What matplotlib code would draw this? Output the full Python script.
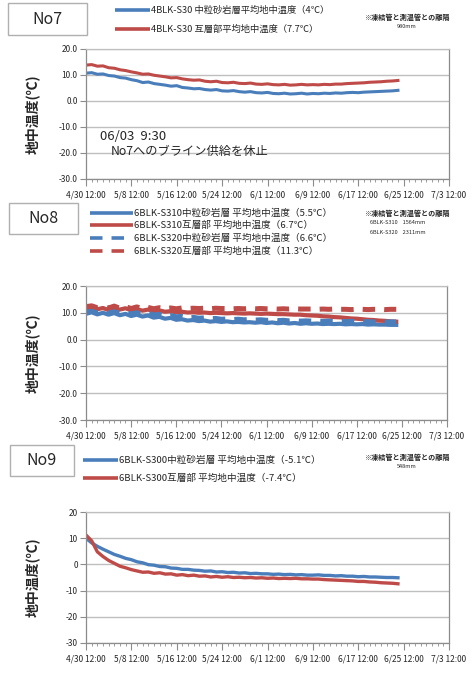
import matplotlib
matplotlib.use("Agg")
import matplotlib.pyplot as plt
import matplotlib.dates as mdates
from matplotlib.lines import Line2D
from matplotlib.patches import Rectangle
from matplotlib.ticker import FuncFormatter, FixedLocator
import pandas as pd
import datetime as dt

plt.rcParams['font.family'] = ['Noto Sans CJK JP', 'DejaVu Sans']
plt.rcParams['lines.scale_dashes'] = False

# ---- data (daily readings from 4/30 12:00) ----
start = dt.datetime(2000, 4, 30, 12)
x_start = dt.datetime(2000, 4, 30, 12)
x_end = dt.datetime(2000, 7, 3, 12)

no7_s30_sand = [10.7, 10.9, 10.3, 10.4, 9.8, 9.6, 9.0, 8.8, 8.2, 7.8,
                7.1, 7.3, 6.7, 6.4, 6.1, 5.7, 5.9, 5.2, 5.0, 4.7,
                4.8, 4.4, 4.2, 4.4, 3.9, 3.8, 4.0, 3.6, 3.4, 3.6,
                3.2, 3.1, 3.3, 2.9, 2.8, 3.0, 2.7, 2.8, 3.0, 2.7,
                2.9, 2.8, 3.0, 2.9, 3.1, 3.0, 3.2, 3.3, 3.2, 3.4,
                3.5, 3.6, 3.7, 3.8, 3.9, 4.1]
no7_s30_inter = [13.8, 14.0, 13.4, 13.5, 12.8, 12.6, 12.0, 11.7, 11.2, 10.8,
                 10.3, 10.4, 9.9, 9.6, 9.3, 8.9, 9.0, 8.5, 8.2, 8.0,
                 8.1, 7.6, 7.4, 7.6, 7.1, 7.0, 7.2, 6.8, 6.7, 6.9,
                 6.5, 6.4, 6.6, 6.3, 6.2, 6.4, 6.1, 6.2, 6.4, 6.2,
                 6.3, 6.2, 6.4, 6.3, 6.5, 6.5, 6.7, 6.8, 6.9, 7.0,
                 7.2, 7.3, 7.4, 7.6, 7.7, 7.9]

no8_s310_sand = [9.6, 10.2, 9.4, 10.0, 9.3, 9.9, 9.1, 9.6, 8.8, 9.3,
                 8.6, 9.0, 8.2, 8.5, 7.8, 8.1, 7.4, 7.6, 7.1, 7.3,
                 6.9, 7.1, 6.7, 6.9, 6.6, 6.8, 6.5, 6.6, 6.4, 6.5,
                 6.3, 6.5, 6.2, 6.4, 6.1, 6.3, 6.0, 6.2, 5.9, 6.1,
                 5.9, 6.0, 5.8, 5.9, 5.8, 5.9, 5.7, 5.8, 5.7, 5.8,
                 5.6, 5.7, 5.6, 5.6, 5.5, 5.5]
no8_s310_inter = [11.5, 12.0, 11.3, 11.8, 11.0, 11.6, 11.2, 11.7, 10.9, 11.4,
                  10.8, 11.2, 10.6, 10.9, 10.4, 10.6, 10.2, 10.4, 10.1, 10.2,
                  10.0, 10.1, 9.9, 10.0, 9.9, 9.8, 9.9, 9.8, 9.7, 9.8,
                  9.7, 9.6, 9.7, 9.6, 9.5, 9.5, 9.4, 9.3, 9.3, 9.1,
                  9.0, 8.9, 8.7, 8.6, 8.4, 8.3, 8.1, 7.9, 7.8, 7.6,
                  7.4, 7.3, 7.1, 7.0, 6.8, 6.7]
no8_s320_sand = [10.3, 10.6, 10.1, 10.5, 10.0, 10.4, 9.9, 10.2, 9.6, 10.0,
                 9.5, 9.8, 9.2, 9.4, 8.8, 9.0, 8.5, 8.7, 8.2, 8.3,
                 8.0, 8.1, 7.8, 7.9, 7.6, 7.7, 7.5, 7.6, 7.4, 7.5,
                 7.3, 7.4, 7.2, 7.3, 7.1, 7.2, 7.0, 7.1, 6.9, 7.0,
                 6.9, 6.9, 6.8, 6.9, 6.8, 6.8, 6.7, 6.8, 6.7, 6.7,
                 6.7, 6.6, 6.7, 6.6, 6.6, 6.6]
no8_s320_inter = [12.3, 12.6, 11.9, 12.4, 11.8, 12.5, 11.7, 12.3, 11.6, 12.2,
                  11.6, 12.0, 11.5, 11.9, 11.6, 11.8, 11.5, 11.8, 11.6, 11.7,
                  11.6, 11.7, 11.5, 11.7, 11.6, 11.6, 11.5, 11.6, 11.5, 11.6,
                  11.5, 11.6, 11.5, 11.5, 11.4, 11.5, 11.4, 11.5, 11.4, 11.4,
                  11.4, 11.3, 11.4, 11.3, 11.4, 11.3, 11.3, 11.2, 11.3, 11.3,
                  11.2, 11.3, 11.3, 11.2, 11.3, 11.3]

no9_s300_sand = [10.0, 8.2, 6.9, 5.8, 4.8, 3.8, 3.1, 2.3, 1.8, 1.0,
                 0.6, -0.1, -0.3, -0.8, -0.9, -1.4, -1.5, -1.9, -1.9, -2.2,
                 -2.3, -2.6, -2.5, -2.9, -2.8, -3.1, -3.0, -3.3, -3.2, -3.5,
                 -3.4, -3.6, -3.6, -3.8, -3.7, -3.9, -3.8, -4.0, -3.9, -4.1,
                 -4.1, -4.0, -4.2, -4.2, -4.4, -4.3, -4.5, -4.5, -4.7, -4.6,
                 -4.8, -4.8, -4.9, -5.0, -5.0, -5.1]
no9_s300_inter = [11.2, 9.0, 4.8, 3.0, 1.5, 0.4, -0.7, -1.3, -2.0, -2.5,
                  -3.0, -2.9, -3.4, -3.2, -3.7, -3.6, -4.1, -3.9, -4.3, -4.1,
                  -4.5, -4.4, -4.8, -4.6, -4.9, -4.7, -5.0, -4.9, -5.1, -5.0,
                  -5.2, -5.1, -5.3, -5.2, -5.4, -5.3, -5.4, -5.3, -5.5, -5.5,
                  -5.6, -5.6, -5.8, -5.9, -6.0, -6.1, -6.2, -6.3, -6.5, -6.5,
                  -6.7, -6.8, -7.0, -7.1, -7.2, -7.4]

dates = pd.date_range(start, periods=len(no7_s30_sand), freq='D')

legend_no7 = ['4BLK-S30 中粒砂岩層平均地中温度（4℃）',
              '4BLK-S30 互層部平均地中温度（7.7℃）']
legend_no8 = ['6BLK-S310中粒砂岩層 平均地中温度（5.5℃）',
              '6BLK-S310互層部 平均地中温度（6.7℃）',
              '6BLK-S320中粒砂岩層 平均地中温度（6.6℃）',
              '6BLK-S320互層部 平均地中温度（11.3℃）']
legend_no9 = ['6BLK-S300中粒砂岩層 平均地中温度（-5.1℃）',
              '6BLK-S300互層部 平均地中温度（-7.4℃）']

BLUE = '#4a7ebb'
RED = '#be4b48'
GRID = '#bfbfbf'
TXT = '#262626'

W, H = 472, 686
fig = plt.figure(figsize=(W / 100, H / 100), dpi=100)


def fx(x):
    return x / W


def fy(y):
    return 1 - y / H


def make_axes(top, bottom, right, yfmt):
    ax = fig.add_axes([fx(86), fy(bottom), fx(right) - fx(86), fy(top) - fy(bottom)])
    ax.set_xlim(x_start, x_end)
    ax.set_ylim(-30, 20)
    ax.set_yticks([-30, -20, -10, 0, 10, 20])
    ax.yaxis.set_major_formatter(FuncFormatter(yfmt))
    ax.grid(axis='y', color=GRID, lw=1.0)
    ax.set_axisbelow(True)
    major = [mdates.date2num(x_start + dt.timedelta(days=8 * i)) for i in range(9)]
    minor = [mdates.date2num(x_start + dt.timedelta(days=i)) for i in range(65)]
    ax.xaxis.set_major_locator(FixedLocator(major))
    ax.xaxis.set_minor_locator(FixedLocator(minor))
    ax.xaxis.set_major_formatter(FuncFormatter(
        lambda v, p: f"{mdates.num2date(v).month}/{mdates.num2date(v).day} 12:00"))
    ax.tick_params(axis='x', which='major', length=5, width=0.8, color='#8c8c8c',
                   labelsize=6, labelcolor=TXT, pad=3)
    ax.tick_params(axis='x', which='minor', length=2.5, width=0.6, color='#8c8c8c')
    ax.tick_params(axis='y', length=4, width=0.8, color='#8c8c8c',
                   labelsize=6, labelcolor=TXT, pad=2)
    for s in ax.spines.values():
        s.set_color('#8c8c8c')
        s.set_linewidth(0.9)
    ax.spines['top'].set_color(GRID)
    ax.set_ylabel('地中温度(℃)', fontsize=10, fontweight='bold', color=TXT, labelpad=4)
    ax.yaxis.set_label_coords(-(86 - 40) / (right - 86), 0.5)
    return ax


def title_box(x0, y0, x1, y1, label):
    fig.add_artist(Rectangle((fx(x0), fy(y1)), fx(x1) - fx(x0), fy(y0) - fy(y1),
                             transform=fig.transFigure, fill=False,
                             edgecolor='#b0b0b0', lw=1.0))
    fig.text(fx((x0 + x1) / 2), fy((y0 + y1) / 2), label, ha='center', va='center',
             fontsize=11.5, color=TXT)


def legend_entry(x0, x1, y, color, text, size, dashed=False):
    line = Line2D([fx(x0), fx(x1)], [fy(y), fy(y)], transform=fig.transFigure,
                  color=color, lw=2.6, solid_capstyle='butt', dash_capstyle='butt')
    if dashed:
        line.set_dashes((9, 6.5))
    fig.add_artist(line)
    fig.text(fx(x1 + 1), fy(y), text, ha='left', va='center', fontsize=size, color=TXT)


def spacing_note(y, lines):
    fig.text(fx(407), fy(y), '※凍結管と測温管との離隔', ha='center', va='center',
             fontsize=5.1, fontweight='bold', color=TXT)
    for i, (txt, xpos, ha) in enumerate(lines):
        fig.text(fx(xpos), fy(y + 10 + 10 * i), txt, ha=ha, va='center',
                 fontsize=4, color=TXT)


fmt1 = lambda v, p: f"{v:.1f}"
fmt3 = lambda v, p: f"{v:.0f}"

# ---- No7 ----
ax1 = make_axes(49, 179, 449, fmt1)
ax1.plot(dates, no7_s30_sand, color=BLUE, lw=2.2)
ax1.plot(dates, no7_s30_inter, color=RED, lw=2.2)
ax1.text(mdates.date2num(x_start) + 2.5, -13.5, '06/03  9:30', fontsize=9.5, color=TXT,
         va='center')
ax1.text(mdates.date2num(x_start) + 4.3, -19.6, 'No7へのブライン供給を休止', fontsize=8.8,
         color=TXT, va='center')
title_box(8, 3, 87, 35, 'No7')
legend_entry(115, 150, 10, BLUE, legend_no7[0], 6.7)
legend_entry(115, 150, 29, RED, legend_no7[1], 6.7)
spacing_note(17, [('980mm', 407, 'center')])

# ---- No8 ----
ax2 = make_axes(286, 420, 447, fmt1)
ax2.plot(dates, no8_s310_sand, color=BLUE, lw=3.0)
ax2.plot(dates, no8_s310_inter, color=RED, lw=3.0)
ax2.plot(dates, no8_s320_sand, color=BLUE, lw=3.6, dashes=(9, 6.5))
ax2.plot(dates, no8_s320_inter, color=RED, lw=3.6, dashes=(9, 6.5))
title_box(9, 203, 78, 234, 'No8')
legend_entry(90, 133, 213, BLUE, legend_no8[0], 6.9)
legend_entry(90, 133, 225, RED, legend_no8[1], 6.9)
legend_entry(90, 133, 238, BLUE, legend_no8[2], 6.9, dashed=True)
legend_entry(90, 133, 251, RED, legend_no8[3], 6.9, dashed=True)
spacing_note(213, [('6BLK-S310    1564mm', 370, 'left'),
                   ('6BLK-S320    2311mm', 370, 'left')])

# ---- No9 ----
ax3 = make_axes(512, 643, 449, fmt3)
ax3.plot(dates, no9_s300_sand, color=BLUE, lw=2.4)
ax3.plot(dates, no9_s300_inter, color=RED, lw=2.4)
title_box(10, 445, 74, 476, 'No9')
legend_entry(83, 118, 460, BLUE, legend_no9[0], 6.9)
legend_entry(83, 118, 478, RED, legend_no9[1], 6.9)
spacing_note(457, [('548mm', 407, 'center')])

fig.savefig('out.png', dpi=100, facecolor='white')
